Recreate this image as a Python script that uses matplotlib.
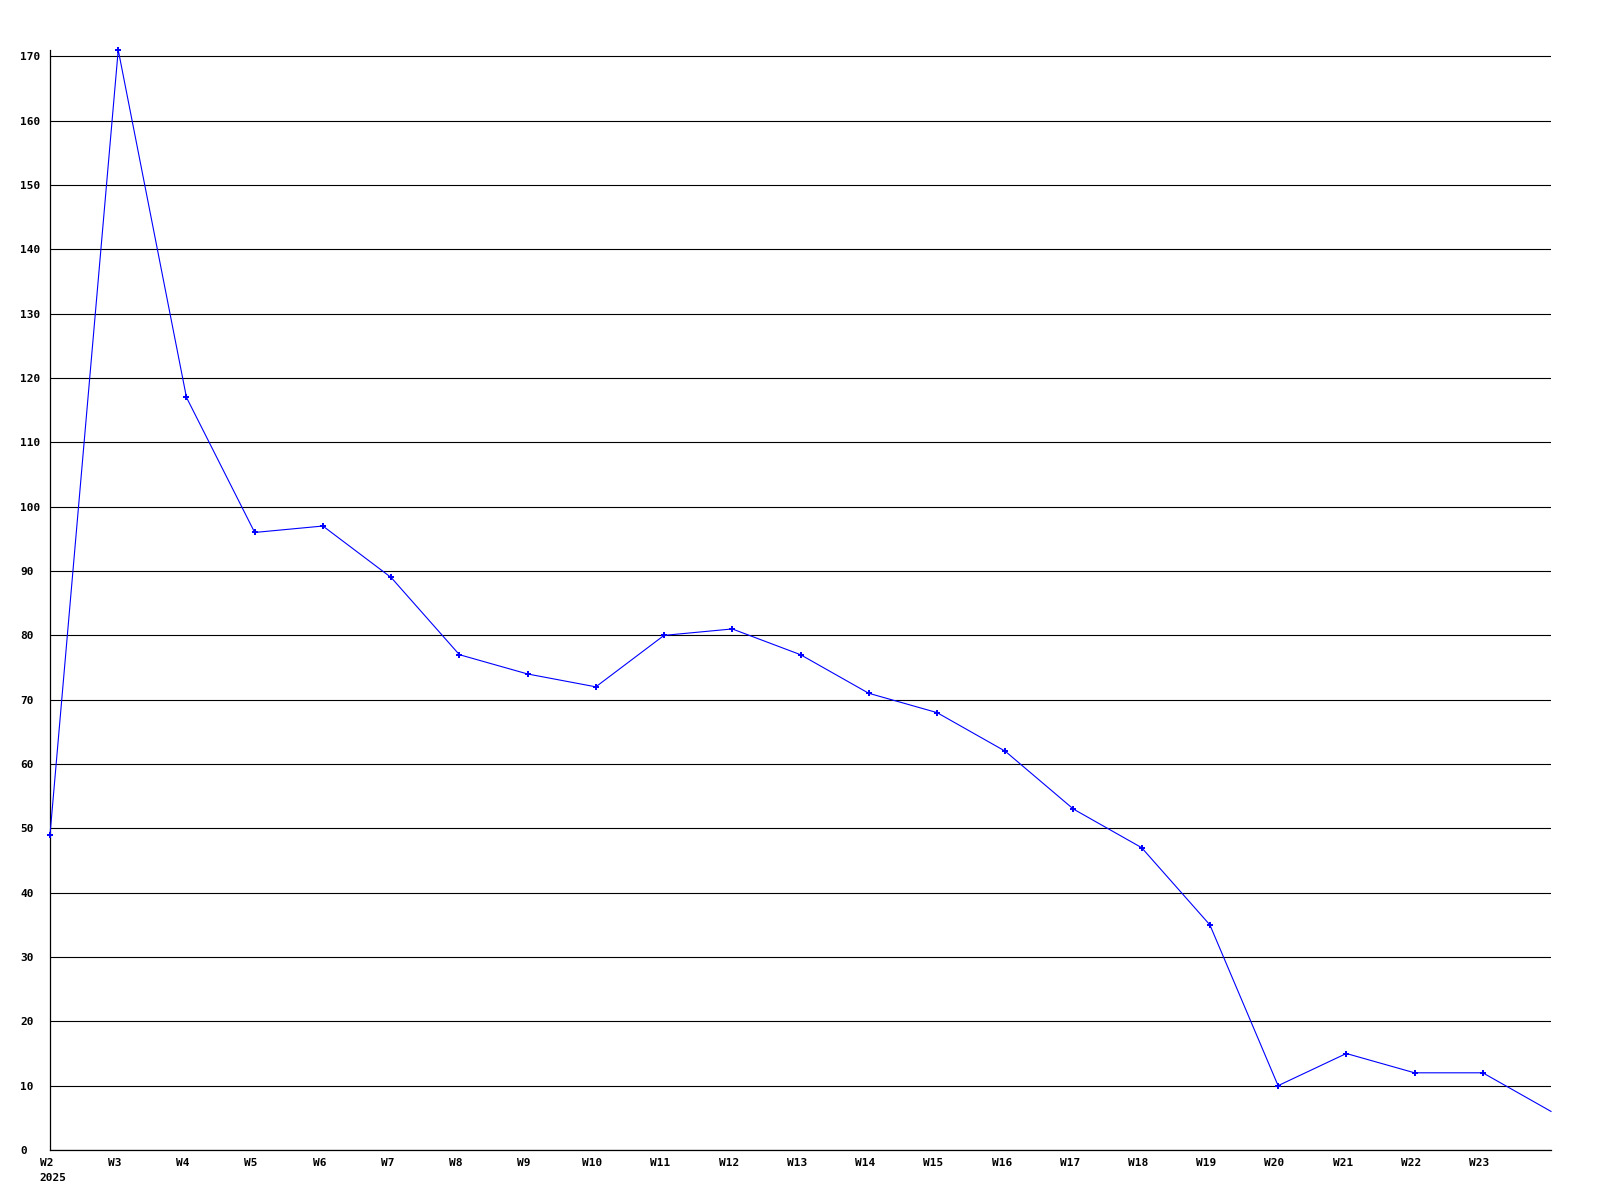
import matplotlib
matplotlib.use("Agg")
import matplotlib.pyplot as plt
import matplotlib.transforms as mtransforms

weeks = ["W2", "W3", "W4", "W5", "W6", "W7", "W8", "W9", "W10", "W11", "W12",
         "W13", "W14", "W15", "W16", "W17", "W18", "W19", "W20", "W21", "W22",
         "W23", "W24"]
values = [49, 171, 117, 96, 97, 89, 77, 74, 72, 80, 81, 77, 71, 68, 62, 53,
          47, 35, 10, 15, 12, 12, 6]
tick_labels = weeks[:-1]
year_label = "2025"
y_ticks = list(range(0, 171, 10))

W, H = 1600, 1200
fig = plt.figure(figsize=(16, 12), dpi=100)
ax = fig.add_axes([50 / W, 1 - 1150 / H, (1551 - 50) / W, (1150 - 50) / H])

x = list(range(len(values)))
ax.plot(x, values, color="#0000ff", linewidth=0.8, marker="+", markersize=4,
        markeredgewidth=1.4, markevery=list(range(len(values) - 1)),
        clip_on=False, zorder=3)

ax.set_xlim(0, len(values) - 1)
ax.set_ylim(0, 171)
ax.set_yticks(y_ticks)
ax.yaxis.grid(True, color="black", linewidth=0.8)
ax.set_axisbelow(True)
ax.set_xticks(list(range(len(tick_labels))))
ax.set_xticklabels(tick_labels)

for s in ["top", "right"]:
    ax.spines[s].set_visible(False)
for s in ["left", "bottom"]:
    ax.spines[s].set_color("black")
    ax.spines[s].set_linewidth(0.9)

font = dict(family="DejaVu Sans Mono", weight="bold", size=8)
ax.tick_params(axis="both", length=0)
ax.tick_params(axis="y", pad=21.6)
ax.tick_params(axis="x", pad=6)
for lab in ax.get_yticklabels():
    lab.set_fontproperties(matplotlib.font_manager.FontProperties(**font))
    lab.set_horizontalalignment("left")
offset = mtransforms.ScaledTranslation(-3.5 / 100, 0, fig.dpi_scale_trans)
for lab in ax.get_xticklabels():
    lab.set_fontproperties(matplotlib.font_manager.FontProperties(**font))
    lab.set_transform(lab.get_transform() + offset)

fig.text(39 / W, 1 - 1178 / H, year_label, ha="left", va="center", **font)

fig.savefig("out.png", dpi=100, facecolor="white")
